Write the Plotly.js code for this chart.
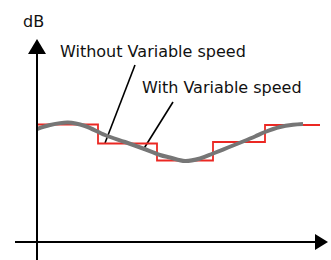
<!DOCTYPE html>
<html>
<head>
<meta charset="utf-8">
<script src="https://cdn.plot.ly/plotly-3.0.1.min.js"></script>
<style>html,body{margin:0;padding:0;background:#fff;}#chart{width:331px;height:260px;}</style>
</head>
<body>
<div id="chart"></div>
<script>
// Without variable speed: stepped level (time, dB)
var stepTime = [0, 61, 120, 176, 228, 283];
var stepLevel = [117.5, 98.5, 81.5, 100, 117, 117];

// With variable speed: smooth level (time, dB)
var smoothTime = [0, 13, 31, 48, 68, 88, 106, 123, 133, 148, 163, 176, 191, 206, 218, 228, 243, 256, 266];
var smoothLevel = [113, 117, 119.5, 116, 107, 100, 93.5, 87, 84.5, 81, 83.5, 88.5, 94.5, 100.5, 105.5, 110, 115, 117.2, 118];

// Leader lines from labels to the curves
var leaderWithoutTime = [98, 68];
var leaderWithoutLevel = [177, 99];
var leaderWithTime = [136, 106];
var leaderWithLevel = [140, 92];

var labels = ["dB", "Without Variable speed", "With Variable speed"];

var font = {family: "DejaVu Sans", size: 16, color: "#111"};

var traces = [
  {x: leaderWithoutTime, y: leaderWithoutLevel, mode: "lines", line: {color: "#000", width: 1.6}, hoverinfo: "skip"},
  {x: leaderWithTime, y: leaderWithLevel, mode: "lines", line: {color: "#000", width: 1.6}, hoverinfo: "skip"},
  {x: stepTime, y: stepLevel, mode: "lines", line: {color: "rgb(235,40,35)", width: 1.8, shape: "hv"}, hoverinfo: "skip"},
  {x: smoothTime, y: smoothLevel, mode: "lines", line: {color: "rgb(118,118,118)", width: 4, shape: "spline", smoothing: 1}, hoverinfo: "skip"}
];

var layout = {
  width: 331, height: 260,
  margin: {l: 0, r: 0, t: 0, b: 0},
  paper_bgcolor: "#fff", plot_bgcolor: "#fff",
  showlegend: false,
  xaxis: {range: [-37, 294], visible: false, fixedrange: true},
  yaxis: {range: [-18, 242], visible: false, fixedrange: true},
  shapes: [
    {type: "line", xref: "x", yref: "y", x0: 0, y0: 190, x1: 0, y1: -18, line: {color: "#000", width: 2}},
    {type: "line", xref: "x", yref: "y", x0: -22, y0: 0, x1: 280, y1: 0, line: {color: "#000", width: 2}},
    {type: "path", xref: "x", yref: "y", path: "M -9 188 L 9 188 L 0 203 Z", fillcolor: "#000", line: {color: "#000", width: 0}},
    {type: "path", xref: "x", yref: "y", path: "M 278 8 L 278 -8 L 291 0 Z", fillcolor: "#000", line: {color: "#000", width: 0}}
  ],
  annotations: [
    {x: -14, y: 220.5, xref: "x", yref: "y", text: labels[0], showarrow: false, xanchor: "left", yanchor: "middle", font: font, borderpad: 0, borderwidth: 0},
    {x: 23, y: 190.5, xref: "x", yref: "y", text: labels[1], showarrow: false, xanchor: "left", yanchor: "middle", font: font, borderpad: 0, borderwidth: 0},
    {x: 105, y: 155, xref: "x", yref: "y", text: labels[2], showarrow: false, xanchor: "left", yanchor: "middle", font: font, borderpad: 0, borderwidth: 0}
  ]
};

Plotly.newPlot("chart", traces, layout, {staticPlot: true, displayModeBar: false});
</script>
</body>
</html>
